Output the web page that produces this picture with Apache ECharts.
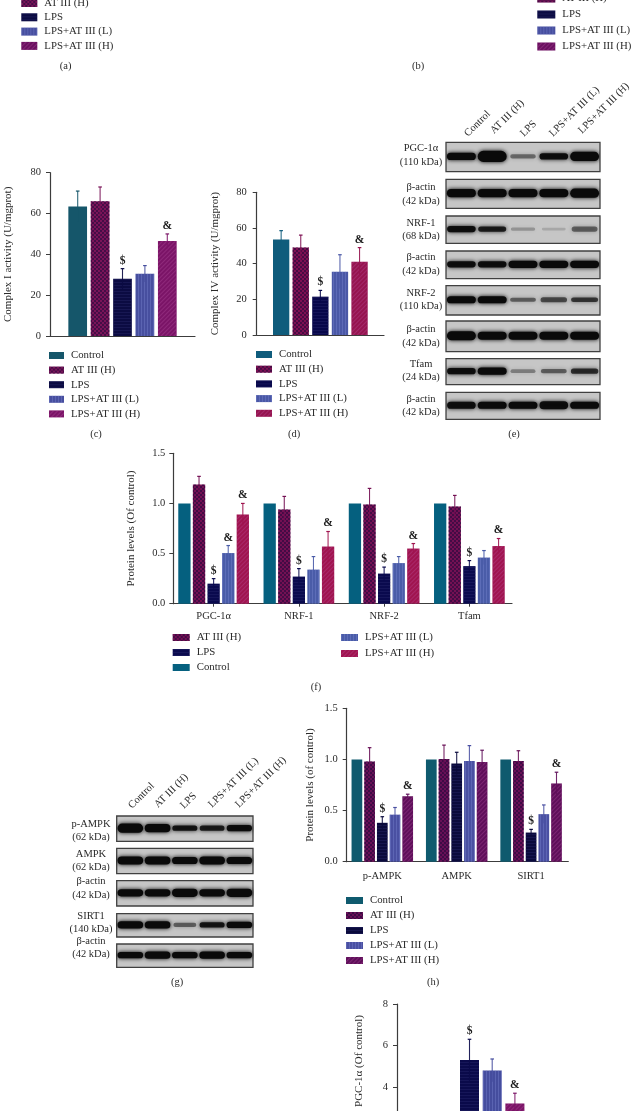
<!DOCTYPE html>
<html><head><meta charset="utf-8">
<style>html,body{margin:0;padding:0;background:#fff}#c{width:632px;height:1111px;filter:blur(.35px)}</style>
<script src="https://cdn.jsdelivr.net/npm/echarts@6/dist/echarts.min.js"></script>
</head><body><div id="c"></div>
<script>
const groupNames = ['Control','AT III (H)','LPS','LPS+AT III (L)','LPS+AT III (H)'];

// Panel (c)
const cValues = [63.5,66,28,30.5,46.5];
const cTops   = [71,73,33,34.5,50];
const cMarks  = ['','','$','','&'];
// Panel (d)
const dValues = [53.5,49,21.5,35.5,41];
const dTops   = [58.5,56,25,45,49];
const dMarks  = ['','','$','','&'];
// Panel (f)
const fCategories = ['PGC-1α','NRF-1','NRF-2','Tfam'];
const fControl = [1,1,1,1];
const fAt      = [1.19,0.94,0.99,0.97];
const fLps     = [0.2,0.27,0.3,0.375];
const fLow     = [0.505,0.34,0.405,0.46];
const fHigh    = [0.89,0.57,0.55,0.575];
const fAtTop   = [1.27,1.07,1.15,1.08];
const fLpsTop  = [0.25,0.35,0.365,0.43];
const fLowTop  = [0.58,0.47,0.47,0.53];
const fHighTop = [1.0,0.72,0.6,0.65];
const fLpsMarks  = ['$','$','$','$'];
const fLowMarks  = ['&','','',''];
const fHighMarks = ['&','&','&','&'];
// Panel (h)
const hCategories = ['p-AMPK','AMPK','SIRT1'];
const hControl = [1,1,1];
const hAt      = [0.98,1.005,0.985];
const hLps     = [0.38,0.96,0.285];
const hLow     = [0.46,0.985,0.465];
const hHigh    = [0.64,0.975,0.765];
const hAtTop   = [1.115,1.14,1.085];
const hLpsTop  = [0.44,1.07,0.316];
const hLowTop  = [0.53,1.135,0.555];
const hHighTop = [0.66,1.09,0.875];
const hLpsMarks  = ['$','','$'];
const hHighMarks = ['&','','&'];
// Panel (i), cut off by the page bottom
const iValues = [1,1.1,5.3,4.8,3.2];
const iTops   = [1,1.1,6.3,5.35,3.7];
const iMarks  = ['','','$','','&'];

// Western blot band thickness and darkness per lane
const eLabels = ['PGC-1α\n(110 kDa)','β-actin\n(42 kDa)','NRF-1\n(68 kDa)','β-actin\n(42 kDa)','NRF-2\n(110 kDa)','β-actin\n(42 kDa)','Tfam\n(24 kDa)','β-actin\n(42 kDa)'];
const eThick = [[6,10,3,5,8],[7,7,7,7,8],[5,4,2,1.5,4],[5,5,6,6,6],[6,6,3,4,3.5],[8,7,7,7,7],[5,6,2.5,3,4],[6,6,6,7,6]];
const eDark  = [[1,1,.45,.95,1],[1,1,1,1,1],[.95,.85,.25,.15,.5],[.95,.95,1,1,1],[1,1,.5,.6,.7],[1,1,1,1,1],[.95,1,.35,.5,.75],[.95,1,1,.95,1]];
const gLabels = ['p-AMPK\n(62 kDa)','AMPK\n(62 kDa)','β-actin\n(42 kDa)','SIRT1\n(140 kDa)','β-actin\n(42 kDa)'];
const gThick = [[8,7,4,4,5],[7,7,6,7,6],[6,6,7,6,7],[6,6,3,4,5],[5,6,5,6,5]];
const gDark  = [[1,1,.9,.85,.95],[1,1,1,1,1],[1,1,1,1,1],[1,1,.5,.9,1],[1,1,1,1,1]];

// ---- layout and style (separate from the data) ----
const TXT = '#2a2a2a', AX = '#3c3c3c', FONT = '"Liberation Serif",serif';
const palette = {
  c:{ctl:'#15566a',at:'#7a1458',lps:'#0b0b42',low:'#474f9f',high:'#7b1467'},
  d:{ctl:'#0f5c7c',at:'#7e1052',lps:'#07074a',low:'#4a58a6',high:'#96144f'},
  f:{ctl:'#05607f',at:'#741053',lps:'#0a0a4e',low:'#4a5ca8',high:'#a0144f'},
  h:{ctl:'#0f5a6e',at:'#681056',lps:'#0a0a3c',low:'#4a50a2',high:'#5f0f5a'},
  a:{ctl:'#15566a',at:'#7a1458',lps:'#0b0b42',low:'#474f9f',high:'#6b1060'},
  i:{ctl:'#15566a',at:'#7a1458',lps:'#0a0a4a',low:'#454d9e',high:'#7b1467'}
};
function decalFor(i){
  if(i===1) return {symbol:'rect',symbolSize:1,dashArrayX:[[2,2],[0,2,2,0]],dashArrayY:[2,0],color:'rgba(35,8,60,.6)'};
  if(i===2) return {symbol:'rect',symbolSize:1,dashArrayX:[1,0],dashArrayY:[1,2],color:'rgba(50,50,120,.3)'};
  if(i===3) return {symbol:'rect',symbolSize:1,dashArrayX:[1,2],dashArrayY:[3,0],color:'rgba(130,140,215,.35)'};
  if(i===4) return {symbol:'rect',symbolSize:1,dashArrayX:[1,0],dashArrayY:[1,2],rotation:-Math.PI/4,color:'rgba(190,90,170,.3)'};
  return null;
}
const colKeys = ['ctl','at','lps','low','high'];

const option = {animation:false,backgroundColor:'#fff',grid:[],xAxis:[],yAxis:[],series:[],legend:[],graphic:{elements:[]}};

function addText(text,x,y,font,extra){
  option.graphic.elements.push(Object.assign({type:'text',x:x,y:y,silent:true,
    style:{text:text,fill:TXT,font:font||('10.5px '+FONT),align:'center',verticalAlign:'middle',lineHeight:13.5}},extra||{}));
}
function addLegend(key,names,left,top,w,h,gap){
  option.legend.push({orient:'vertical',left:left,top:top,padding:0,itemWidth:w,itemHeight:h,itemGap:gap,selectedMode:false,icon:'rect',
    textStyle:{color:TXT,fontFamily:FONT,fontSize:10.8,padding:[0,0,0,2]},
    data:names.map(n=>{const i=groupNames.indexOf(n);const col=palette[key][colKeys[i]];const dc=decalFor(i);
      const st={color:col}; if(dc) st.decal=dc;
      return {name:n,itemStyle:st};})});
}
function addChart(p){
  const g=option.grid.length;
  option.grid.push({left:p.left,top:p.top,width:p.width,height:p.height,outerBoundsMode:'none'});
  option.xAxis.push({type:'category',gridIndex:g,data:p.cats,
    axisLine:{lineStyle:{color:AX,width:1.2}},
    axisTick:{show:!!p.xTick,length:3,alignWithLabel:true,lineStyle:{color:AX}},
    axisLabel:{show:p.cats.length>1,color:TXT,fontFamily:FONT,fontSize:10.5,margin:p.xMargin||7,interval:0}});
  option.yAxis.push({type:'value',gridIndex:g,min:0,max:p.max,interval:p.step,offset:p.yOffset||0,
    name:p.yName,nameLocation:'middle',nameGap:p.nameGap,
    nameTextStyle:{color:TXT,fontFamily:FONT,fontSize:11},
    splitLine:{show:false},
    axisLine:{show:true,lineStyle:{color:AX,width:1.2}},
    axisTick:{show:true,length:4,lineStyle:{color:AX}},
    axisLabel:{color:TXT,fontFamily:FONT,fontSize:10.5,margin:p.yMargin,formatter:p.fmt}});
  groupNames.forEach((n,i)=>{
    const col=palette[p.key][colKeys[i]],dc=decalFor(i);
    const st={color:col}; if(dc) st.decal=dc;
    option.series.push({type:'bar',name:n,xAxisIndex:g,yAxisIndex:g,data:p.vals[i],
      barWidth:p.barW,barGap:((p.space-p.barW)/p.barW*100)+'%',
      itemStyle:st});
  });
  groupNames.forEach((n,i)=>{
    const col=palette[p.key][colKeys[i]], tops=p.tops[i], marks=p.marks[i]||[];
    if(!tops) return;
    option.series.push({type:'custom',xAxisIndex:g,yAxisIndex:g,z:5,silent:true,
      data:p.vals[i].map((v,k)=>[k,v,tops[k]]),
      encode:{x:0,y:[1,2]},
      renderItem:(params,api)=>{
        const k=api.value(0),v=api.value(1),t=api.value(2);
        const dx=(i-2)*p.space;
        const a=api.coord([k,t]),b=api.coord([k,Math.max(0,v-(t-v))]);
        const x=a[0]+dx,kids=[];
        kids.push({type:'line',shape:{x1:x,y1:a[1],x2:x,y2:b[1]},style:{stroke:col,lineWidth:1.1,opacity:.9}});
        kids.push({type:'line',shape:{x1:x-1.8,y1:a[1],x2:x+1.8,y2:a[1]},style:{stroke:col,lineWidth:1.2}});
        const m=marks[params.dataIndex];
        if(m) kids.push({type:'text',style:{text:m,x:x,y:a[1]-2,fill:'#1c1c1c',font:'bold 11.5px '+FONT,align:'center',verticalAlign:'bottom'}});
        return {type:'group',children:kids};
      }});
  });
}
function addBlots(labels,thick,dark,rows,left,width,labelX,labelY){
  labels.forEach((lab,r)=>{
    const g=option.grid.length;
    option.grid.push({show:true,left:left,top:rows[r][0],width:width,height:rows[r][1]-rows[r][0],outerBoundsMode:'none',
      backgroundColor:'#c6c6c6',borderColor:'#404040',borderWidth:1.3});
    option.xAxis.push({type:'category',gridIndex:g,show:false,data:[0,1,2,3,4]});
    option.yAxis.push({type:'value',gridIndex:g,show:false,min:0,max:1});
    const laneW=width/5;
    option.series.push({type:'custom',xAxisIndex:g,yAxisIndex:g,silent:true,clip:true,
      data:thick[r].map((t,k)=>[k,t,dark[r][k]]),
      renderItem:(params,api)=>{
        const c=api.coord([api.value(0),0.52]),t=api.value(1)+1.2,d=api.value(2);
        const w=laneW*(0.74+0.2*d);
        return {type:'rect',shape:{x:c[0]-w/2,y:c[1]-t/2,width:w,height:t,r:t/2},
          style:{fill:'rgba(10,10,10,'+d+')',shadowBlur:4,shadowColor:'rgba(0,0,0,'+d+')'}};
      }});
    addText(lab,labelX,labelY[r]);
  });
}

// ---- panels ----
addChart({key:'c',left:50,top:172.7,width:145,height:163.3,cats:[''],max:80,step:20,yMargin:9,yName:'Complex I activity (U/mgprot)',nameGap:36,
  barW:18.7,space:22.4,vals:cValues.map(v=>[v]),tops:cTops.map(v=>[v]),marks:cMarks.map(v=>[v])});
addChart({key:'d',left:256.7,top:192.3,width:127.3,height:142.7,cats:[''],max:80,step:20,yMargin:10,yName:'Complex IV activity (U/mgprot)',nameGap:36.5,
  barW:16.3,space:19.6,vals:dValues.map(v=>[v]),tops:dTops.map(v=>[v]),marks:dMarks.map(v=>[v])});
addChart({key:'f',left:171,top:453.3,width:341,height:150.4,cats:fCategories,max:1.5,step:0.5,yOffset:-2.3,yMargin:8,yName:'Protein levels (Of control)',nameGap:37,
  xTick:true,xMargin:7,fmt:v=>v.toFixed(1),barW:12.3,space:14.6,vals:[fControl,fAt,fLps,fLow,fHigh],
  tops:[null,fAtTop,fLpsTop,fLowTop,fHighTop],marks:[[],[],fLpsMarks,fLowMarks,fHighMarks]});
addChart({key:'h',left:345.1,top:708.3,width:223.2,height:153.4,cats:hCategories,max:1.5,step:0.5,yOffset:-1.6,yMargin:9,yName:'Protein levels (of control)',nameGap:31,
  xMargin:9,fmt:v=>v.toFixed(1),barW:10.7,space:12.7,vals:[hControl,hAt,hLps,hLow,hHigh],
  tops:[null,hAtTop,hLpsTop,hLowTop,hHighTop],marks:[[],[],hLpsMarks,[],hHighMarks]});
addChart({key:'i',left:397,top:1004,width:145,height:166,cats:[''],max:8,step:2,yMargin:9,
  barW:19,space:22.7,vals:iValues.map(v=>[v]),tops:iTops.map((v,i)=>i<2?null:[v]),marks:iMarks.map(v=>[v])});
addText('PGC-1α (Of control)',359,1061,'11px '+FONT,{rotation:Math.PI/2});

addBlots(eLabels,eThick,eDark,[[142.3,171.7],[179.3,208.3],[216,243.3],[251,278.7],[285.7,315],[321,351.7],[358.7,384.7],[392.3,419.3]],446,154,421,
  [155,194,229.5,264,299.5,336,370.5,405.5]);
addBlots(gLabels,gThick,gDark,[[816,841.3],[848.3,873.7],[880.7,906],[913.7,937],[944,967.3]],116.7,136.3,91,
  [830.5,860.5,888,922.5,947.5]);

const names4=groupNames.slice(1);
addLegend('a',names4,21.3,-2.5,16,8,3.3);
addLegend('a',names4,537.3,-7,18,8,5);
addLegend('c',groupNames,49,350,15,7,3.6);
addLegend('d',groupNames,256,349,16,7,3.7);
addLegend('f',['AT III (H)','LPS','Control'],172.7,632,17,7,4);
addLegend('f',['LPS+AT III (L)','LPS+AT III (H)'],341,632,17,7,5);
addLegend('h',groupNames,346,895,17,7,4);

[['(a)',65.7,66],['(b)',418,66],['(c)',96,434],['(d)',294,434],['(e)',514,434],['(f)',316,687],['(g)',177,982],['(h)',433,982]]
  .forEach(t=>addText(t[0],t[1],t[2]));

const R=Math.PI/4, rot=(labels,pts)=>labels.forEach((l,i)=>addText(l,pts[i][0],pts[i][1],null,{rotation:R,style:{text:l,fill:TXT,font:'10.5px '+FONT,align:'left',verticalAlign:'bottom'}}));
rot(groupNames,[[470,139],[496,136],[526,139],[555,139],[584,136]]);
rot(groupNames,[[134,811],[160,810],[186,811],[214,810],[241,810]]);

echarts.init(document.getElementById('c'),null,{renderer:'canvas'}).setOption(option);
</script></body></html>
